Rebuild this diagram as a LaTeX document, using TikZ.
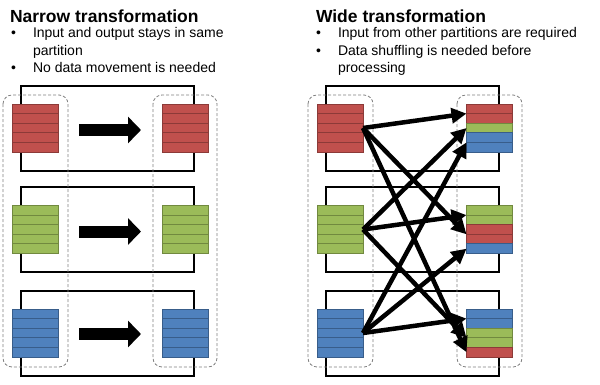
\documentclass[tikz,border=0pt]{standalone}
\usepackage{fontspec}
\setmainfont{Liberation Sans}
\usetikzlibrary{arrows.meta}

\definecolor{rfill}{RGB}{192,80,77}
\definecolor{rline}{RGB}{140,58,56}
\definecolor{gfill}{RGB}{155,187,89}
\definecolor{gline}{RGB}{113,137,63}
\definecolor{bfill}{RGB}{79,129,189}
\definecolor{bline}{RGB}{56,93,138}

\begin{document}
\begin{tikzpicture}[
    x=1pt, y=-1pt,
    every node/.style={inner sep=0, outer sep=0},
    title/.style={anchor=base west, font=\fontsize{17.5}{21}\selectfont\bfseries},
    bullettext/.style={anchor=base west, font=\fontsize{14}{17}\selectfont},
    row/.style={minimum width=46pt, minimum height=9.6pt, line width=0.9pt, fill=#1fill, draw=#1line},
    frame/.style={line width=1.7pt},
    partbox/.style={draw=gray, dash pattern=on 3pt off 2pt, rounded corners=9pt, line width=0.8pt},
    fatarrow/.style={line width=12pt, -{Triangle[length=13pt,width=26pt]}, shorten <=21pt, shorten >=21pt},
    shuffle/.style={line width=4.5pt, -{Triangle[length=15pt,width=15pt]}}
]
\useasboundingbox (0,0) rectangle (600,384);

% headings
\node[title] (ntitle) at (10,22) {Narrow transformation};
\node[bullettext] (nb1) at (11,37.5) {•};
\node[bullettext] (nl1) at (33,37.5) {Input and output stays in same};
\node[bullettext] (nl2) at (33,55) {partition};
\node[bullettext] (nb2) at (11,72.5) {•};
\node[bullettext] (nl3) at (33,72.5) {No data movement is needed};

\node[title] (wtitle) at (316,22) {Wide transformation};
\node[bullettext] (wb1) at (316,37.5) {•};
\node[bullettext] (wl1) at (338,37.5) {Input from other partitions are required};
\node[bullettext] (wb2) at (316,55) {•};
\node[bullettext] (wl2) at (338,55) {Data shuffling is needed before};
\node[bullettext] (wl3) at (338,72.5) {processing};

% frames behind the partitions
\foreach \y in {86,187,291} {
    \draw[frame] (21,\y) rectangle (194,\y+85);
    \draw[frame] (326,\y) rectangle (499,\y+85);
}

% dashed stages
\draw[partbox] (3,95) rectangle (68,367);
\draw[partbox] (153,95) rectangle (217,367);
\draw[partbox] (308,95) rectangle (373,367);
\draw[partbox] (457,95) rectangle (522,367);

% partitions
\foreach \nm/\x/\y/\a/\b/\cc/\d/\e in {
    ls1/35/104/r/r/r/r/r, ls2/35/205.5/g/g/g/g/g, ls3/35/309/b/b/b/b/b,
    lt1/185/104/r/r/r/r/r, lt2/185/205.5/g/g/g/g/g, lt3/185/309/b/b/b/b/b,
    rs1/340/104/r/r/r/r/r, rs2/340/205.5/g/g/g/g/g, rs3/340/309/b/b/b/b/b,
    rt1/489.5/104/r/r/g/b/b, rt2/489.5/205.5/g/g/r/r/b, rt3/489.5/309/b/b/g/g/r} {
    \foreach \clr [count=\i] in {\a,\b,\cc,\d,\e}
        \node[row=\clr] (\nm-\i) at (\x, {\y+4.8+9.6*(\i-1)}) {};
}

% narrow
\draw[fatarrow] ([yshift=-2pt]ls1-3.east) -- ([yshift=-2pt]lt1-3.west);
\draw[fatarrow] ([yshift=-2pt]ls2-3.east) -- ([yshift=-2pt]lt2-3.west);
\draw[fatarrow] ([yshift=-1pt]ls3-3.east) -- ([yshift=-1pt]lt3-3.west);

% wide
\draw[shuffle] (rs1-3.east) -- (rt1-1.south west);
\draw[shuffle] (rs1-3.east) -- (rt2-3.south west);
\draw[shuffle] (rs1-3.east) -- (rt3-5.west);
\draw[shuffle] (rs2-3.east) -- (rt1-3.west);
\draw[shuffle] (rs2-3.east) -- (rt2-1.south west);
\draw[shuffle] (rs2-3.east) -- (rt3-3.south west);
\draw[shuffle] (rs3-3.east) -- (rt1-4.south west);
\draw[shuffle] (rs3-3.east) -- (rt2-5.west);
\draw[shuffle] (rs3-3.east) -- (rt3-1.south west);
\end{tikzpicture}
\end{document}
